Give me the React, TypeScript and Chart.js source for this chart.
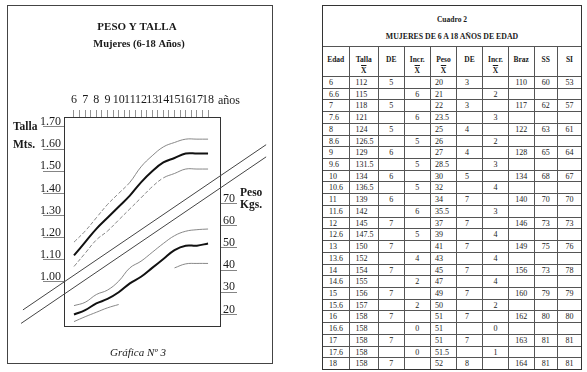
import React, { useEffect, useRef } from "react";
import { Chart, registerables } from "chart.js";

Chart.register(...registerables);

// ---------- Table data (Cuadro 2) ----------
const edadLabels = ["6", "6.6", "7", "7.6", "8", "8.6", "9", "9.6", "10", "10.6", "11", "11.6", "12", "12.6", "13", "13.6", "14", "14.6", "15", "15.6", "16", "16.6", "17", "17.6", "18"];
const edadYears = [6, 6.5, 7, 7.5, 8, 8.5, 9, 9.5, 10, 10.5, 11, 11.5, 12, 12.5, 13, 13.5, 14, 14.5, 15, 15.5, 16, 16.5, 17, 17.5, 18];
const tallaMedia = [112, 115, 118, 121, 124, 126.5, 129, 131.5, 134, 136.5, 139, 142, 145, 147.5, 150, 152, 154, 155, 156, 157, 158, 158, 158, 158, 158];
const tallaDE = ["5", "", "5", "", "5", "", "6", "", "6", "", "6", "", "7", "", "7", "", "7", "", "7", "", "7", "", "7", "", "7"];
const tallaIncr = ["", "6", "", "6", "", "5", "", "5", "", "5", "", "6", "", "5", "", "4", "", "2", "", "2", "", "0", "", "0", ""];
const pesoMedia = [20, 21, 22, 23.5, 25, 26, 27, 28.5, 30, 32, 34, 35.5, 37, 39, 41, 43, 45, 47, 49, 50, 51, 51, 51, 51.5, 52];
const pesoDE = ["3", "", "3", "", "4", "", "4", "", "5", "", "7", "", "7", "", "7", "", "7", "", "7", "", "7", "", "7", "", "8"];
const pesoIncr = ["", "2", "", "3", "", "2", "", "3", "", "4", "", "3", "", "4", "", "4", "", "4", "", "2", "", "0", "", "1", ""];
const braz = ["110", "", "117", "", "122", "", "128", "", "134", "", "140", "", "146", "", "149", "", "156", "", "160", "", "162", "", "163", "", "164"];
const ss = ["60", "", "62", "", "63", "", "65", "", "68", "", "70", "", "73", "", "75", "", "73", "", "79", "", "80", "", "81", "", "81"];
const si = ["53", "", "57", "", "61", "", "64", "", "67", "", "70", "", "73", "", "76", "", "78", "", "79", "", "80", "", "81", "", "81"];

// ---------- Chart curves ----------
const curveAges = [6, 7, 8, 9, 10, 11, 12, 13, 14, 15, 16, 17, 18];
const tallaSuperior = [118, 123, 129, 135, 140, 145, 152, 157, 161, 163, 164.5, 164.5, 164.5];
const tallaInferior = [107, 113, 119, 123, 128, 133, 138, 143, 147, 149, 151, 151, 151];
const pesoSuperior = [24, 25.5, 29, 31, 35, 41, 44, 48, 52, 55.5, 57.5, 58.2, 58.5];
const pesoInferior = [16.8, 19, 21, 23, 24.5, null, null, null, null, 41, 42.8, 43, 43];

// diagonal band (in age / talla-cm units)
const bandaSupEdad = [1.43, 23.2];
const bandaSupTalla = [87.4, 162.0];
const bandaInfEdad = [1.26, 23.2];
const bandaInfTalla = [81.3, 156.5];

// axes
const edadTicks = [6, 6.5, 7, 7.5, 8, 8.5, 9, 9.5, 10, 10.5, 11, 11.5, 12, 12.5, 13, 13.5, 14, 14.5, 15, 15.5, 16, 16.5, 17, 17.5, 18];
const tallaTicks = [100, 110, 120, 130, 140, 150, 160, 170];
const pesoTicks = [20, 30, 40, 50, 60, 70];

const SERIF = "'Liberation Serif', 'DejaVu Serif', serif";

const pts = (xs: number[], ys: (number | null)[]) => xs.map((x, i) => ({ x, y: ys[i] }));
// mean curves use the whole-year rows of the table
const wholeYear = (ys: number[]) => edadYears.map((x, i) => ({ x, y: ys[i] })).filter((p) => Number.isInteger(p.x));

const decorPlugin = {
  id: "decor",
  beforeDatasetsDraw(chart: any) {
    const { ctx, chartArea: a } = chart;
    ctx.save();
    ctx.strokeStyle = "#333";
    ctx.lineWidth = 1;
    ctx.strokeRect(Math.round(a.left) + 0.5, Math.round(a.top) + 0.5, Math.round(a.right - a.left), Math.round(a.bottom - a.top));
    ctx.restore();
  },
  afterDraw(chart: any) {
    const { ctx, chartArea: a } = chart;
    ctx.save();
    ctx.fillStyle = "#1a1a1a";
    ctx.textBaseline = "middle";
    ctx.strokeStyle = "#444";
    ctx.lineWidth = 1;
    ctx.strokeRect(7.5, 5.5, 265, 358);
    ctx.textAlign = "center";
    ctx.font = `bold 11px ${SERIF}`;
    ctx.fillText("PESO Y TALLA", 137, 27);
    ctx.font = `bold 10.5px ${SERIF}`;
    ctx.fillText("Mujeres (6-18 Años)", 139, 44);
    ctx.font = `italic 11px ${SERIF}`;
    ctx.fillText("Gráfica Nº 3", 138, 353);
    ctx.textAlign = "left";
    ctx.font = `bold 11.5px ${SERIF}`;
    ctx.fillText("Talla", 13, 127);
    ctx.fillText("Mts.", 13, 145);
    ctx.fillText("Peso", a.right + 20, 193);
    ctx.fillText("Kgs.", a.right + 20, 205);
    ctx.font = `12px ${SERIF}`;
    ctx.fillText("años", a.right - 2, 101);
    ctx.restore();
  },
};

function GraphCanvas() {
  const ref = useRef<HTMLCanvasElement | null>(null);
  useEffect(() => {
    if (!ref.current) return;
    const thin = { borderColor: "#7a7a7a", borderWidth: 0.9, pointRadius: 0, tension: 0.4, spanGaps: false };
    const thick = { borderColor: "#111", borderWidth: 2, pointRadius: 0, tension: 0.4 };
    const dashEarly = (limit: number) => ({
      borderDash: (c: any) => (c.p1.parsed.x <= limit ? [4, 2] : undefined),
    });
    const chart = new Chart(ref.current, {
      type: "line",
      data: {
        datasets: [
          { data: wholeYear(tallaMedia), yAxisID: "yT", ...thick },
          { data: pts(curveAges, tallaSuperior), yAxisID: "yT", ...thin, segment: dashEarly(11) },
          { data: pts(curveAges, tallaInferior), yAxisID: "yT", ...thin, segment: dashEarly(14) },
          { data: wholeYear(pesoMedia), yAxisID: "yP", ...thick },
          { data: pts(curveAges, pesoSuperior), yAxisID: "yP", ...thin },
          { data: pts(curveAges, pesoInferior), yAxisID: "yP", ...thin },
          { data: pts(bandaSupEdad, bandaSupTalla), yAxisID: "yT", borderColor: "#444", borderWidth: 1, pointRadius: 0, tension: 0, clip: false },
          { data: pts(bandaInfEdad, bandaInfTalla), yAxisID: "yT", borderColor: "#444", borderWidth: 1, pointRadius: 0, tension: 0, clip: false },
        ] as any,
      },
      options: {
        animation: false,
        responsive: false,
        events: [],
        layout: { padding: { left: 0, right: 0, top: 0, bottom: 46 } },
        plugins: { legend: { display: false }, tooltip: { enabled: false }, title: { display: false } },
        scales: {
          x: {
            type: "linear",
            position: "top",
            min: 5.105,
            max: 19.07,
            afterBuildTicks: (s: any) => { s.ticks = edadTicks.map((v) => ({ value: v })); },
            afterFit: (s: any) => { s.height = 117; },
            ticks: {
              autoSkip: false,
              maxRotation: 0,
              minRotation: 0,
              padding: 3,
              color: "#1a1a1a",
              font: { family: SERIF, size: 12 },
              callback: (v: any) => (Number.isInteger(v) ? String(v) : ""),
            },
            grid: { drawOnChartArea: false, drawTicks: true, tickLength: 7, color: "#777", lineWidth: 0.8 },
            border: { display: true, color: "#333" },
          },
          yT: {
            type: "linear",
            position: "left",
            min: 80.13,
            max: 174.5,
            afterBuildTicks: (s: any) => { s.ticks = tallaTicks.map((v) => ({ value: v })); },
            afterFit: (s: any) => { s.width = 64; },
            ticks: {
              padding: -18,
              labelOffset: -5,
              color: "#1a1a1a",
              font: { family: SERIF, size: 12 },
              callback: (v: any) => (Number(v) / 100).toFixed(2),
            },
            grid: { drawOnChartArea: false, drawTicks: true, tickLength: 21, color: "#666", lineWidth: 0.8 },
            border: { display: true, color: "#333" },
          },
          yP: {
            type: "linear",
            position: "right",
            min: 14.82,
            max: 108.96,
            afterBuildTicks: (s: any) => { s.ticks = pesoTicks.map((v) => ({ value: v })); },
            afterFit: (s: any) => { s.width = 60; },
            ticks: {
              padding: -14,
              labelOffset: -5,
              color: "#1a1a1a",
              font: { family: SERIF, size: 12 },
            },
            grid: { drawOnChartArea: false, drawTicks: true, tickLength: 17, color: "#666", lineWidth: 0.8 },
            border: { display: true, color: "#333" },
          },
        },
      } as any,
      plugins: [decorPlugin],
    });
    return () => chart.destroy();
  }, []);
  return <canvas ref={ref} width={280} height={372} style={{ position: "absolute", left: 0, top: 0, width: 280, height: 372 }} />;
}

const colWidths = [26.5, 29.5, 25.5, 26.5, 26, 26, 26, 25.5, 23.5, 23];
const colAlign: ("left" | "center")[] = ["left", "left", "center", "center", "left", "left", "center", "center", "center", "center"];
const colPad = [6, 6, 0, 0, 4, 8, 0, 0, 0, 0];
const headers: [string, boolean][] = [["Edad", false], ["Talla", true], ["DE", false], ["Incr.", true], ["Peso", true], ["DE", false], ["Incr.", true], ["Braz", false], ["SS", false], ["SI", false]];

function Tabla() {
  const rows = edadLabels.map((e, i) => [e, String(tallaMedia[i]), tallaDE[i], tallaIncr[i], String(pesoMedia[i]), pesoDE[i], pesoIncr[i], braz[i], ss[i], si[i]]);
  const cell = (ci: number, extra: any = {}) => ({
    borderTop: "1px solid #555",
    borderRight: ci < 9 ? "1px solid #555" : "none",
    boxSizing: "border-box" as const,
    overflow: "hidden",
    whiteSpace: "nowrap" as const,
    ...extra,
  });
  return (
    <div style={{ position: "absolute", left: 322, top: 5, width: 260, height: 365, border: "1px solid #333", boxSizing: "border-box", fontFamily: SERIF, color: "#1a1a1a" }}>
      <div style={{ height: 40, position: "relative" }}>
        <div style={{ position: "absolute", left: 0, right: 0, top: 9, textAlign: "center", fontWeight: "bold", fontSize: 7.5, lineHeight: "10px" }}>Cuadro 2</div>
        <div style={{ position: "absolute", left: 0, right: 0, top: 26, textAlign: "center", fontWeight: "bold", fontSize: 7.8, lineHeight: "10px" }}>MUJERES DE 6 A 18 AÑOS DE EDAD</div>
      </div>
      <div style={{ display: "grid", gridTemplateColumns: colWidths.map((w) => w + "px").join(" "), gridTemplateRows: `30px repeat(${rows.length}, 11.72px)` }}>
        {headers.map(([h, bar], ci) => (
          <div key={"h" + ci} style={cell(ci, { textAlign: "center", fontWeight: "bold", fontSize: 7.5, paddingTop: 7, lineHeight: "11px" })}>
            <div>{h}</div>
            {bar ? <div style={{ textDecoration: "overline" }}>X</div> : null}
          </div>
        ))}
        {rows.map((r, ri) =>
          r.map((v, ci) => (
            <div key={ri + "-" + ci} style={cell(ci, { textAlign: colAlign[ci], paddingLeft: colPad[ci], fontSize: 8, lineHeight: "11px" })}>
              {v}
            </div>
          ))
        )}
      </div>
    </div>
  );
}

export default function App() {
  return (
    <div style={{ position: "fixed", left: 0, top: 0, width: 587, height: 372, background: "#fff", overflow: "hidden" }}>
      <GraphCanvas />
      <Tabla />
    </div>
  );
}
